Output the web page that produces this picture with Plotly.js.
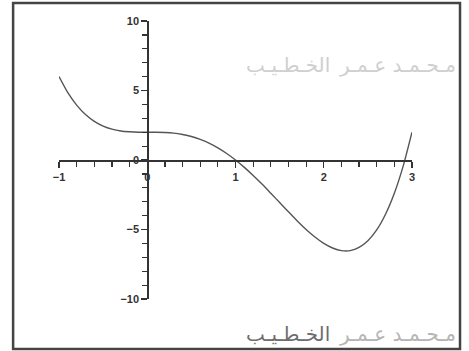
<!DOCTYPE html>
<html>
<head>
<meta charset="utf-8">
<script src="https://cdn.plot.ly/plotly-3.0.1.min.js"></script>
<style>
  html, body { margin: 0; padding: 0; background: #fff; }
  #plot { width: 469px; height: 351px; }
</style>
</head>
<body>
<div id="plot"></div>
<script>
// Sampled points of the curve, x from -1 to 3 in steps of 0.1
const xValues = [-1.0, -0.9, -0.8, -0.7, -0.6, -0.5, -0.4, -0.3, -0.2, -0.1,
                 0.0, 0.1, 0.2, 0.3, 0.4, 0.5, 0.6, 0.7, 0.8, 0.9,
                 1.0, 1.1, 1.2, 1.3, 1.4, 1.5, 1.6, 1.7, 1.8, 1.9,
                 2.0, 2.1, 2.2, 2.3, 2.4, 2.5, 2.6, 2.7, 2.8, 2.9, 3.0];
const yValues = [6.00, 4.84, 3.95, 3.27, 2.78, 2.44, 2.22, 2.09, 2.03, 2.00,
                 2.00, 2.00, 1.98, 1.93, 1.83, 1.69, 1.48, 1.21, 0.87, 0.47,
                 0.00, -0.53, -1.11, -1.73, -2.39, -3.06, -3.73, -4.39, -5.00, -5.54,
                 -6.00, -6.33, -6.52, -6.52, -6.29, -5.81, -5.03, -3.90, -2.39, -0.44, 2.00];

// Axis tick labels
const xTickValues = [-1, 0, 1, 2, 3];
const xTickLabels = ['\u22121', '0', '1', '2', '3'];
const yTickValues = [-10, -5, 0, 5, 10];
const yTickLabels = ['\u221210', '\u22125', '0', '5', '10'];

// Signature text (stretched with tatweel)
const signName = 'مـحـمـد عـمـر';
const signFamily = 'الخـطـيـب';

const tickFont = { family: 'Liberation Sans, Arial, sans-serif', size: 11, color: '#333', weight: 'bold' };

const trace = {
  x: xValues,
  y: yValues,
  type: 'scatter',
  mode: 'lines',
  line: { color: '#555', width: 1.4, shape: 'spline', smoothing: 0.6 },
  cliponaxis: false,
  hoverinfo: 'skip'
};

const layout = {
  width: 469,
  height: 351,
  margin: { l: 59, r: 57, t: 21, b: 52, pad: 0 },
  paper_bgcolor: '#fff',
  plot_bgcolor: 'rgba(0,0,0,0)',
  showlegend: false,
  xaxis: {
    range: [-1, 3],
    anchor: 'free',
    position: 0.5,
    showgrid: false,
    zeroline: false,
    showline: true,
    linecolor: '#333',
    linewidth: 1.6,
    ticks: 'outside',
    ticklen: 6,
    tickwidth: 1.3,
    tickcolor: '#333',
    tickvals: xTickValues,
    ticktext: xTickLabels,
    tickfont: tickFont,
    minor: { dtick: 0.2, ticks: 'outside', ticklen: 5, tickwidth: 1.2, tickcolor: '#333', showgrid: false }
  },
  yaxis: {
    range: [-10, 10],
    anchor: 'free',
    position: 0.25,
    showgrid: false,
    zeroline: false,
    showline: true,
    linecolor: '#333',
    linewidth: 1.6,
    ticks: 'outside',
    ticklen: 6,
    tickwidth: 1.3,
    tickcolor: '#333',
    tickvals: yTickValues,
    ticktext: yTickLabels,
    tickfont: tickFont,
    ticklabelstandoff: 0,
    minor: { dtick: 1, ticks: 'outside', ticklen: 5, tickwidth: 1.2, tickcolor: '#333', showgrid: false }
  },
  shapes: [
    {
      type: 'rect', xref: 'paper', yref: 'paper',
      x0: -0.130, x1: 1.136, y0: -0.180, y1: 1.065,
      line: { color: '#444', width: 2.5 },
      fillcolor: 'rgba(0,0,0,0)'
    }
  ],
  annotations: [
    { text: signName, xref: 'paper', yref: 'paper', x: 1.13, y: 0.842,
      xanchor: 'right', yanchor: 'middle', showarrow: false,
      font: { family: 'DejaVu Sans', size: 20, color: '#cfcfcf' } },
    { text: signFamily, xref: 'paper', yref: 'paper', x: 0.772, y: 0.842,
      xanchor: 'right', yanchor: 'middle', showarrow: false,
      font: { family: 'DejaVu Sans', size: 20, color: '#cfcfcf' } },
    { text: signName, xref: 'paper', yref: 'paper', x: 1.13, y: -0.125,
      xanchor: 'right', yanchor: 'middle', showarrow: false,
      font: { family: 'DejaVu Sans', size: 20, color: '#b5b5b5' } },
    { text: signFamily, xref: 'paper', yref: 'paper', x: 0.772, y: -0.125,
      xanchor: 'right', yanchor: 'middle', showarrow: false,
      font: { family: 'DejaVu Sans', size: 20, color: '#6e6e6e' } }
  ]
};

Plotly.newPlot('plot', [trace], layout, { staticPlot: true, displayModeBar: false });
</script>
</body>
</html>
